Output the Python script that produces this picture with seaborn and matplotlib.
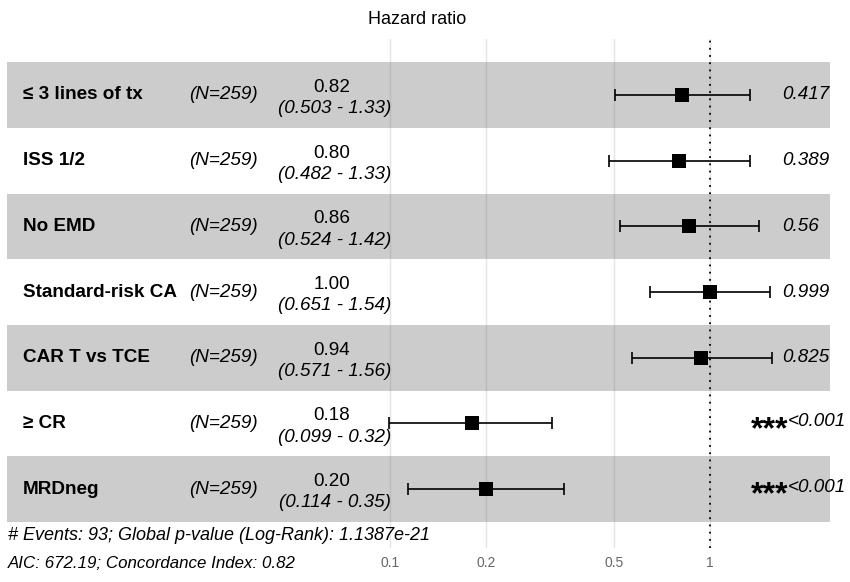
import numpy as np
import pandas as pd
import matplotlib
matplotlib.use("Agg")
import matplotlib.pyplot as plt
import matplotlib.transforms as mtransforms
import seaborn as sns

# forest plot values (Cox model)
labels = ["≤ 3 lines of tx", "ISS 1/2", "No EMD", "Standard-risk CA",
          "CAR T vs TCE", "≥ CR", "MRDneg"]
n_obs = [259, 259, 259, 259, 259, 259, 259]
hr = [0.82, 0.80, 0.86, 1.00, 0.94, 0.18, 0.20]
ci_low = [0.503, 0.482, 0.524, 0.651, 0.571, 0.099, 0.114]
ci_high = [1.33, 1.33, 1.42, 1.54, 1.56, 0.32, 0.35]
p_text = ["0.417", "0.389", "0.56", "0.999", "0.825", "<0.001", "<0.001"]
stars = ["", "", "", "", "", "***", "***"]
x_breaks = [0.1, 0.2, 0.5, 1]
x_break_labels = ["0.1", "0.2", "0.5", "1"]
note1 = "# Events: 93; Global p-value (Log-Rank): 1.1387e-21"
note2 = "AIC: 672.19; Concordance Index: 0.82"

df = pd.DataFrame({"label": labels, "n": n_obs, "hr": hr,
                   "lo": ci_low, "hi": ci_high, "p": p_text, "stars": stars})
df["row"] = np.arange(len(df))

sns.set_theme(style="white")
plt.rcParams["font.family"] = ["Liberation Sans", "DejaVu Sans"]
plt.rcParams["text.color"] = "black"

W, H = 850, 582
fig = plt.figure(figsize=(W / 100, H / 100), dpi=100)
ax = fig.add_axes([0, (H - 548) / H, 1, (548 - 39) / H])

# log x axis: 0.1 at px 390, one decade = 320 px
ax.set_xscale("log")
ax.set_xlim(10 ** (-1 - 390 / 320), 10 ** (-1 + (W - 390) / 320))
ax.set_ylim(6.895, -0.852)

# alternating row bands
for r in df["row"]:
    if r % 2 == 0:
        ax.axhspan(r - 0.5, r + 0.5, xmin=7 / W, xmax=830 / W,
                   color="#cccccc", lw=0, zorder=0)

for b in x_breaks:
    ax.axvline(b, color="#808080", alpha=0.22, lw=1, zorder=1)
ax.axvline(1, color="black", ls=(0, (1, 3)), lw=1.3, zorder=2)

ax.errorbar(df["hr"], df["row"],
            xerr=[df["hr"] - df["lo"], df["hi"] - df["hr"]],
            fmt="none", ecolor="black", elinewidth=1.2, capsize=4,
            capthick=1.2, zorder=3)
sns.scatterplot(data=df, x="hr", y="row", marker="s", color="black",
                s=90, linewidth=0, ax=ax, zorder=4, legend=False)

ax.set_xticks(x_breaks)
ax.set_xticklabels(x_break_labels)
ax.xaxis.set_minor_locator(matplotlib.ticker.NullLocator())
ax.tick_params(axis="x", length=0, pad=6, labelsize=10, labelcolor="#666666")
ax.set_yticks([])
ax.set_xlabel("")
ax.set_ylabel("")
for s in ax.spines.values():
    s.set_visible(False)
ax.patch.set_alpha(0)

fs = 13.6
trans = mtransforms.blended_transform_factory(ax.transAxes, ax.transData)
for _, d in df.iterrows():
    r = d["row"]
    ax.text(23 / W, r, d["label"], transform=trans, ha="left", va="center",
            fontsize=fs, fontweight="bold")
    ax.text(223 / W, r, f"(N={d['n']})", transform=trans, ha="center",
            va="center", fontsize=fs, style="italic")
    ax.text(332 / W, r - 0.115, f"{d['hr']:.2f}", transform=trans,
            ha="center", va="center", fontsize=fs)
    ax.text(335 / W, r + 0.21, f"({d['lo']:g} - {d['hi']:g})",
            transform=trans, ha="center", va="center", fontsize=fs,
            style="italic")
    if d["stars"]:
        ax.text(788 / W, r + 0.22, d["stars"], transform=trans, ha="right",
                va="baseline", fontsize=23, fontweight="bold")
        ax.text(788 / W, r - 0.03, d["p"], transform=trans, ha="left",
                va="center", fontsize=fs, style="italic")
    else:
        ax.text(782 / W, r, d["p"], transform=trans, ha="left",
                va="center", fontsize=fs, style="italic")

fig.text(417 / W, 1 - 20 / H, "Hazard ratio", ha="center", va="center",
         fontsize=13)
fig.text(8 / W, 1 - 535 / H, note1, ha="left", va="center", fontsize=13,
         style="italic")
fig.text(8 / W, 1 - 563 / H, note2, ha="left", va="center", fontsize=12.2,
         style="italic")

fig.savefig("out.png", dpi=100)
